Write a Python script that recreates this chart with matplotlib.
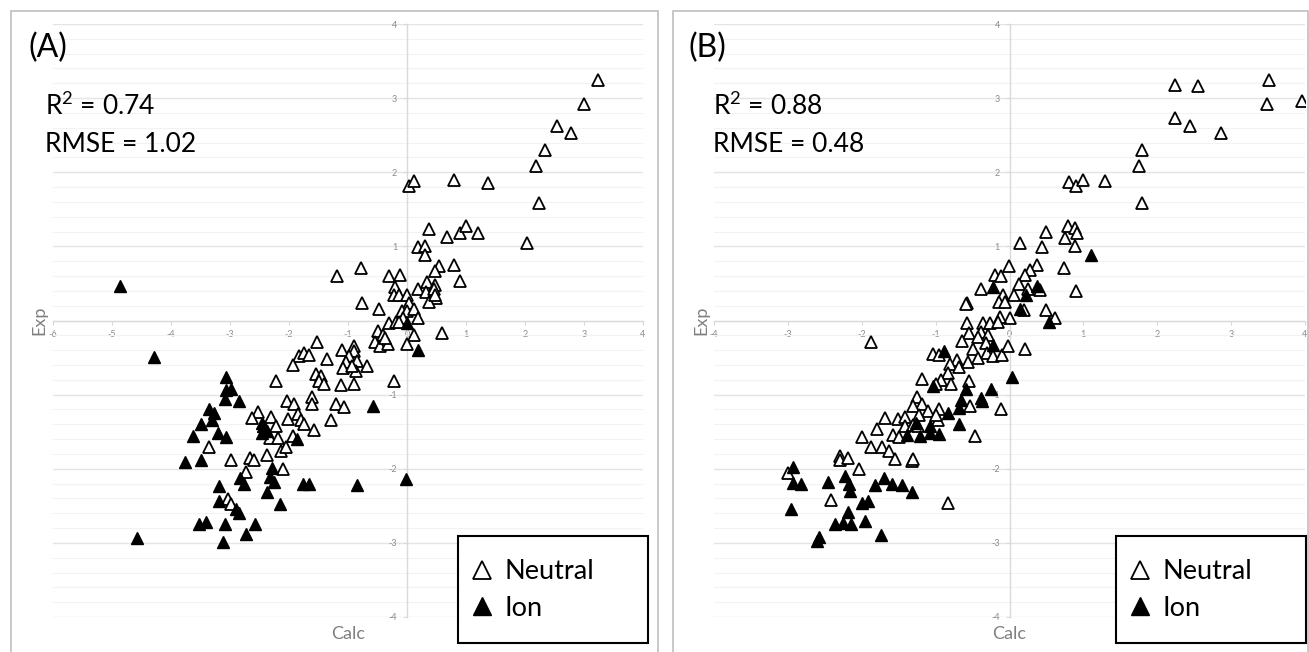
import numpy as np
import matplotlib.pyplot as plt
from matplotlib.patches import Rectangle
from matplotlib.lines import Line2D
from matplotlib.ticker import MultipleLocator

plt.rcParams['font.family'] = ['Lato', 'DejaVu Sans']
plt.rcParams['mathtext.fontset'] = 'custom'
plt.rcParams['mathtext.rm'] = 'Lato'

# ---- panel A data ----
neutral_a_x = [3.23, 3.00, 2.55, 2.78, 2.34, 2.18, 2.24, 2.03, 0.03, 0.12, 0.79, 1.37,
               0.38, 0.68, 0.89, 1.00, 1.21, 0.19, 0.31, 0.30, 0.54, 0.48, 0.80, 0.90,
               -1.18, -0.78, -0.30, -0.12, -0.21, -0.22, -0.14, 0.00, -0.77, -0.47, 0.19, 0.34,
               0.48, 0.33, 0.49, 0.37, 0.04, -0.09, 0.00, 0.12, 0.18, -0.31, -0.19, -0.07,
               -0.13, 0.45, 0.48, 0.60, 0.12, 0.00, -0.50, -0.41, -0.55, -0.46, -0.33, -0.37,
               -0.90, -0.89, -1.10, -0.99, -0.84, -0.68, -1.03, -1.09, -0.86, -0.94, -1.53, -1.36,
               -1.83, -1.74, -1.66, -1.93, -1.55, -1.45, -1.49, -1.40, -1.12, -0.90, -0.22, -2.22,
               -2.04, -1.92, -1.61, -1.61, -1.21, -1.07, -2.01, -1.84, -1.79, -1.75, -1.57, -2.52,
               -2.63, -2.31, -2.22, -2.32, -2.19, -1.93, -2.14, -2.05, -3.35, -2.99, -2.66, -2.59,
               -2.38, -2.10, -2.73, -3.03, -2.98, -1.28]
neutral_a_y = [3.24, 2.92, 2.62, 2.53, 2.30, 2.08, 1.59, 1.04, 1.81, 1.88, 1.90, 1.86,
               1.24, 1.12, 1.18, 1.27, 1.18, 0.99, 1.00, 0.89, 0.73, 0.67, 0.75, 0.53,
               0.60, 0.71, 0.60, 0.62, 0.45, 0.34, 0.35, 0.35, 0.24, 0.16, 0.42, 0.52,
               0.48, 0.38, 0.31, 0.25, 0.23, 0.13, 0.13, 0.15, 0.04, -0.03, -0.02, 0.04,
               -0.02, 0.42, 0.35, -0.17, -0.20, -0.32, -0.14, -0.20, -0.29, -0.35, -0.32, -0.23,
               -0.34, -0.41, -0.40, -0.48, -0.55, -0.61, -0.56, -0.64, -0.68, -0.62, -0.29, -0.52,
               -0.48, -0.44, -0.47, -0.60, -0.72, -0.75, -0.82, -0.86, -0.87, -0.86, -0.81, -0.81,
               -1.09, -1.13, -1.03, -1.13, -1.12, -1.17, -1.33, -1.26, -1.34, -1.40, -1.48, -1.24,
               -1.31, -1.30, -1.43, -1.58, -1.58, -1.56, -1.76, -1.70, -1.71, -1.88, -1.85, -1.88,
               -1.82, -2.00, -2.05, -2.41, -2.47, -1.34]
ion_a_x = [-4.86, -4.29, 0.00, 0.19, -0.58, -0.84, -0.02, -3.07, -3.07, -2.99, -3.08, -2.85,
           -3.35, -3.27, -3.31, -3.50, -3.62, -3.21, -3.06, -3.76, -3.50, -2.46, -2.41, -2.46,
           -2.37, -2.44, -1.87, -2.29, -2.33, -2.25, -2.37, -2.83, -2.76, -3.18, -3.19, -2.89,
           -2.84, -2.16, -1.76, -1.66, -3.52, -3.41, -3.09, -2.58, -2.73, -3.12, -4.58]
ion_a_y = [0.46, -0.49, -0.03, -0.40, -1.16, -2.22, -2.14, -0.76, -0.94, -0.93, -1.06, -1.08,
           -1.19, -1.25, -1.34, -1.39, -1.56, -1.52, -1.57, -1.91, -1.88, -1.38, -1.45, -1.52,
           -1.49, -1.43, -1.60, -1.99, -2.11, -2.18, -2.32, -2.13, -2.21, -2.23, -2.43, -2.54,
           -2.60, -2.47, -2.21, -2.21, -2.75, -2.72, -2.75, -2.75, -2.88, -2.99, -2.93]

# ---- panel B data ----
neutral_b_x = [2.24, 2.55, 3.51, 3.48, 3.96, 2.24, 2.44, 2.86, 1.80, 1.75, 1.80,
               0.81, 0.90, 1.00, 1.29, 0.79, 0.88, 0.92, 0.75, 0.89, 0.49, 0.44, 0.14, 0.74, 0.90,
               0.37, 0.28, 0.21, 0.13, 0.06, -0.01, -0.19, -0.12, 0.25, 0.41, -0.09, -0.14, -0.06,
               0.50, 0.62, 0.20, 0.00, -0.13, -0.36, -0.27, -0.39, -0.58, -0.59,
               -0.58, -0.16, -0.55, -0.38, -0.29, -0.42, -0.64, -0.32, -0.50, -0.31, -0.42, -0.23,
               -0.10, -0.02, 0.21, -1.04, -0.95, -0.71, -0.81, -0.68, -0.56, -0.83, -0.93, -1.19,
               -1.00, -0.79, -0.55, -1.25, -1.18, -1.31, -1.10, -0.95, -0.54, -0.11, -1.22, -0.97,
               -1.00, -0.47, -1.88, -1.68, -1.51, -1.42, -1.42, -1.31, -1.80, -1.58, -1.49, -1.24,
               -1.99, -1.88, -1.73, -1.63, -1.55, -1.32, -1.31, -2.30, -2.29, -2.18, -2.04, -3.00,
               -2.42, -0.83]
neutral_b_y = [3.18, 3.17, 3.24, 2.92, 2.96, 2.73, 2.63, 2.53, 2.30, 2.09, 1.59,
               1.87, 1.81, 1.90, 1.88, 1.28, 1.25, 1.18, 1.11, 1.00, 1.19, 0.99, 1.05, 0.71, 0.40,
               0.75, 0.68, 0.61, 0.49, 0.35, 0.73, 0.61, 0.60, 0.43, 0.41, 0.34, 0.25, 0.25,
               0.14, 0.04, 0.14, 0.04, 0.05, -0.03, -0.03, 0.42, 0.24, 0.22,
               -0.04, -0.02, -0.17, -0.16, -0.19, -0.22, -0.28, -0.31, -0.38, -0.44, -0.50, -0.48,
               -0.46, -0.35, -0.39, -0.45, -0.47, -0.53, -0.59, -0.63, -0.56, -0.71, -0.80, -0.79,
               -0.85, -0.86, -0.81, -1.03, -1.13, -1.16, -1.22, -1.20, -1.16, -1.19, -1.27, -1.34,
               -1.27, -1.56, -0.29, -1.32, -1.33, -1.30, -1.42, -1.41, -1.47, -1.54, -1.57, -1.43,
               -1.57, -1.70, -1.70, -1.76, -1.87, -1.90, -1.87, -1.83, -1.88, -1.85, -2.00, -2.06,
               -2.42, -2.46]
ion_b_x = [1.10, -0.23, 0.37, 0.23, 0.14, 0.54, -0.23, -0.88, 0.04, -1.04, -0.59, -0.25,
           -0.39, -0.37, -0.65, -0.68, -0.83, -0.68, -1.26, -1.39, -1.21, -1.07, -1.07, -0.95,
           -2.93, -2.93, -2.82, -2.96, -2.46, -2.23, -2.17, -2.16, -2.00, -1.91, -1.82, -1.70,
           -1.59, -1.45, -1.32, -2.18, -1.96, -2.36, -2.26, -2.15, -1.74, -2.58, -2.61]
ion_b_y = [0.88, 0.45, 0.47, 0.35, 0.16, -0.02, -0.33, -0.41, -0.76, -0.89, -0.93, -0.92,
           -1.04, -1.09, -1.07, -1.18, -1.25, -1.39, -1.38, -1.54, -1.56, -1.43, -1.52, -1.53,
           -1.98, -2.19, -2.20, -2.54, -2.18, -2.10, -2.21, -2.30, -2.46, -2.43, -2.22, -2.12,
           -2.21, -2.22, -2.31, -2.58, -2.71, -2.74, -2.73, -2.74, -2.89, -2.92, -2.98]

panels = [
    dict(tag='(A)', r2='0.74', rmse='1.02', xlim=(-6, 4),
         nx=neutral_a_x, ny=neutral_a_y, ix=ion_a_x, iy=ion_a_y),
    dict(tag='(B)', r2='0.88', rmse='0.48', xlim=(-4, 4),
         nx=neutral_b_x, ny=neutral_b_y, ix=ion_b_x, iy=ion_b_y),
]

W, H = 1309, 652
fig = plt.figure(figsize=(W / 100, H / 100), dpi=100)

# pixel layout of each panel
layout = [
    dict(frame=(11, 658), plot=(53, 643), tag_x=28, stat_x=45, exp_x=39, leg_x=458),
    dict(frame=(673, 1308), plot=(714, 1305), tag_x=688, stat_x=713, exp_x=701, leg_x=1116),
]
plot_top, plot_bot = 24, 617
axis_gray = '#d9d9d9'
tick_gray = '#8c8c8c'

for p, lay in zip(panels, layout):
    # outer chart frame
    fx0, fx1 = lay['frame']
    fig.patches.append(Rectangle((fx0 / W, -0.02), (fx1 - fx0) / W, 1 - 11 / H + 0.02,
                                 transform=fig.transFigure, fill=False,
                                 edgecolor='#bfbfbf', lw=1.2))

    px0, px1 = lay['plot']
    ax = fig.add_axes([px0 / W, 1 - plot_bot / H, (px1 - px0) / W, (plot_bot - plot_top) / H])
    ax.set_xlim(*p['xlim'])
    ax.set_ylim(-4, 4)

    ax.spines['top'].set_visible(False)
    ax.spines['right'].set_visible(False)
    ax.spines['left'].set_position(('data', 0))
    ax.spines['bottom'].set_position(('data', 0))
    for s in ('left', 'bottom'):
        ax.spines[s].set_color(axis_gray)
        ax.spines[s].set_linewidth(1.0)
        ax.spines[s].set_zorder(1)

    ax.xaxis.set_major_locator(MultipleLocator(1))
    ax.yaxis.set_major_locator(MultipleLocator(1))
    ax.yaxis.set_minor_locator(MultipleLocator(0.2))
    ax.tick_params(which='major', length=3, width=0.8, color=axis_gray,
                   labelsize=6.5, labelcolor=tick_gray, pad=4)
    ax.tick_params(which='minor', length=0)
    ax.grid(axis='y', which='major', color='#e4e4e4', lw=1.0)
    ax.grid(axis='y', which='minor', color='#f2f2f2', lw=0.8)
    ax.set_axisbelow(True)
    yt = [-4, -3, -2, -1, 1, 2, 3, 4]
    ax.set_yticks(yt)
    ax.set_yticklabels([str(v) for v in yt])
    xt = np.arange(p['xlim'][0], p['xlim'][1] + 1)
    ax.set_xticks(xt)
    ax.set_xticklabels([str(v) for v in xt])

    ax.plot(p['nx'], p['ny'], linestyle='none', marker='^', markersize=9,
            markerfacecolor='white', markeredgecolor='black', markeredgewidth=1.3,
            zorder=3)
    ax.plot(p['ix'], p['iy'], linestyle='none', marker='^', markersize=9,
            markerfacecolor='black', markeredgecolor='black', markeredgewidth=1.0,
            zorder=4)

    # panel texts
    fig.text(lay['tag_x'] / W, 1 - 57 / H, p['tag'], fontsize=23, va='baseline', ha='left')
    fig.text(lay['stat_x'] / W, 1 - 115 / H, r'R$^{2}$ = ' + p['r2'], fontsize=19,
             va='baseline', ha='left')
    fig.text(lay['stat_x'] / W, 1 - 152 / H, 'RMSE = ' + p['rmse'], fontsize=19,
             va='baseline', ha='left')
    fig.text((px0 + px1) / 2 / W, 1 - 639 / H, 'Calc', fontsize=13, color='#7f7f7f',
             va='baseline', ha='center')
    fig.text(lay['exp_x'] / W, 1 - 320 / H, 'Exp', fontsize=13, color='#7f7f7f',
             rotation=90, va='center', ha='center')

    # legend box drawn as its own frame (inside the axes so it stacks under the legend)
    lx = lay['leg_x']
    ax.add_patch(Rectangle((lx / W, 1 - 643 / H), 190 / W, 107 / H,
                           transform=fig.transFigure, facecolor='white',
                           edgecolor='black', lw=1.5, zorder=5, clip_on=False))
    handles = [Line2D([], [], linestyle='none', marker='^', markersize=13,
                      markerfacecolor='white', markeredgecolor='black', markeredgewidth=1.3),
               Line2D([], [], linestyle='none', marker='^', markersize=13,
                      markerfacecolor='black', markeredgecolor='black')]
    leg = ax.legend(handles, ['Neutral', 'Ion'], loc='center left',
                    bbox_to_anchor=((lx + 10) / W, 1 - 590 / H),
                    bbox_transform=fig.transFigure, fontsize=19.5, frameon=False,
                    borderpad=0, handlelength=1.0, handletextpad=0.36,
                    labelspacing=0.42, borderaxespad=0)
    leg.set_zorder(6)

fig.savefig('out.png', dpi=100)
